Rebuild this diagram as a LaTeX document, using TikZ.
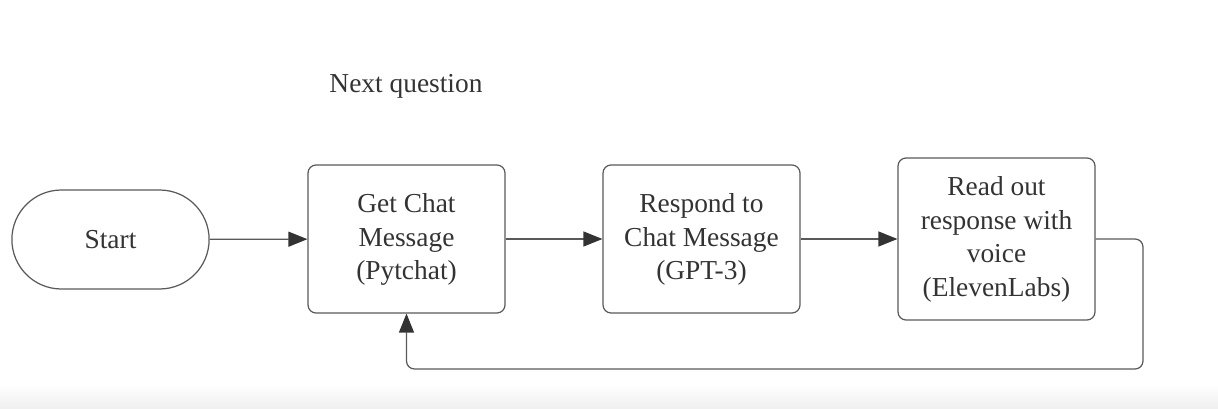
\documentclass[tikz,border=0pt]{standalone}
\usepackage{fontspec}
\setmainfont{Liberation Serif}
\usetikzlibrary{arrows.meta,shapes.misc}
\begin{document}
\begin{tikzpicture}[x=0.02cm, y=-0.02cm,
  every node/.style={font=\fontsize{15.6}{19}\selectfont, text=black!80},
  stepbox/.style={draw=black!65, line width=0.7pt, rounded corners=0.16cm, align=center,
    minimum width=3.94cm, inner sep=0pt, text depth=0.1cm},
  flow/.style={draw=black!65, line width=0.7pt,
    -{Triangle[length=0.38cm, width=0.3cm, color=black!80]}}]
\definecolor{strip}{HTML}{EFEFEF}
\useasboundingbox (0,0) rectangle (1218,409);
\shade[top color=white, bottom color=strip] (0,384) rectangle (1218,409);
% nodes
\node[draw=black!65, line width=0.7pt, rounded rectangle, minimum width=4.18cm, minimum height=1.98cm] (start) at (110.5,239.5) {Start};
\node[stepbox, minimum height=2.96cm] (chat) at (406.5,239) {Get Chat\\Message\\(Pytchat)};
\node[stepbox, minimum height=2.96cm] (gpt) at (701.5,239) {Respond to\\Chat Message\\(GPT-3)};
\node[stepbox, minimum height=3.24cm] (voice) at (996.5,239) {Read out\\response with\\voice\\(ElevenLabs)};
\node (next) at (406,86) {Next question};
% connectors
\draw[flow] (start) -- (chat);
\draw[flow] (chat) -- (gpt);
\draw[flow] (gpt) -- (voice);
\draw[flow, rounded corners=0.16cm] (voice.east) -- (1143,239) -- (1143,369) -- (406.5,369) -- (chat.south);
\end{tikzpicture}
\end{document}
